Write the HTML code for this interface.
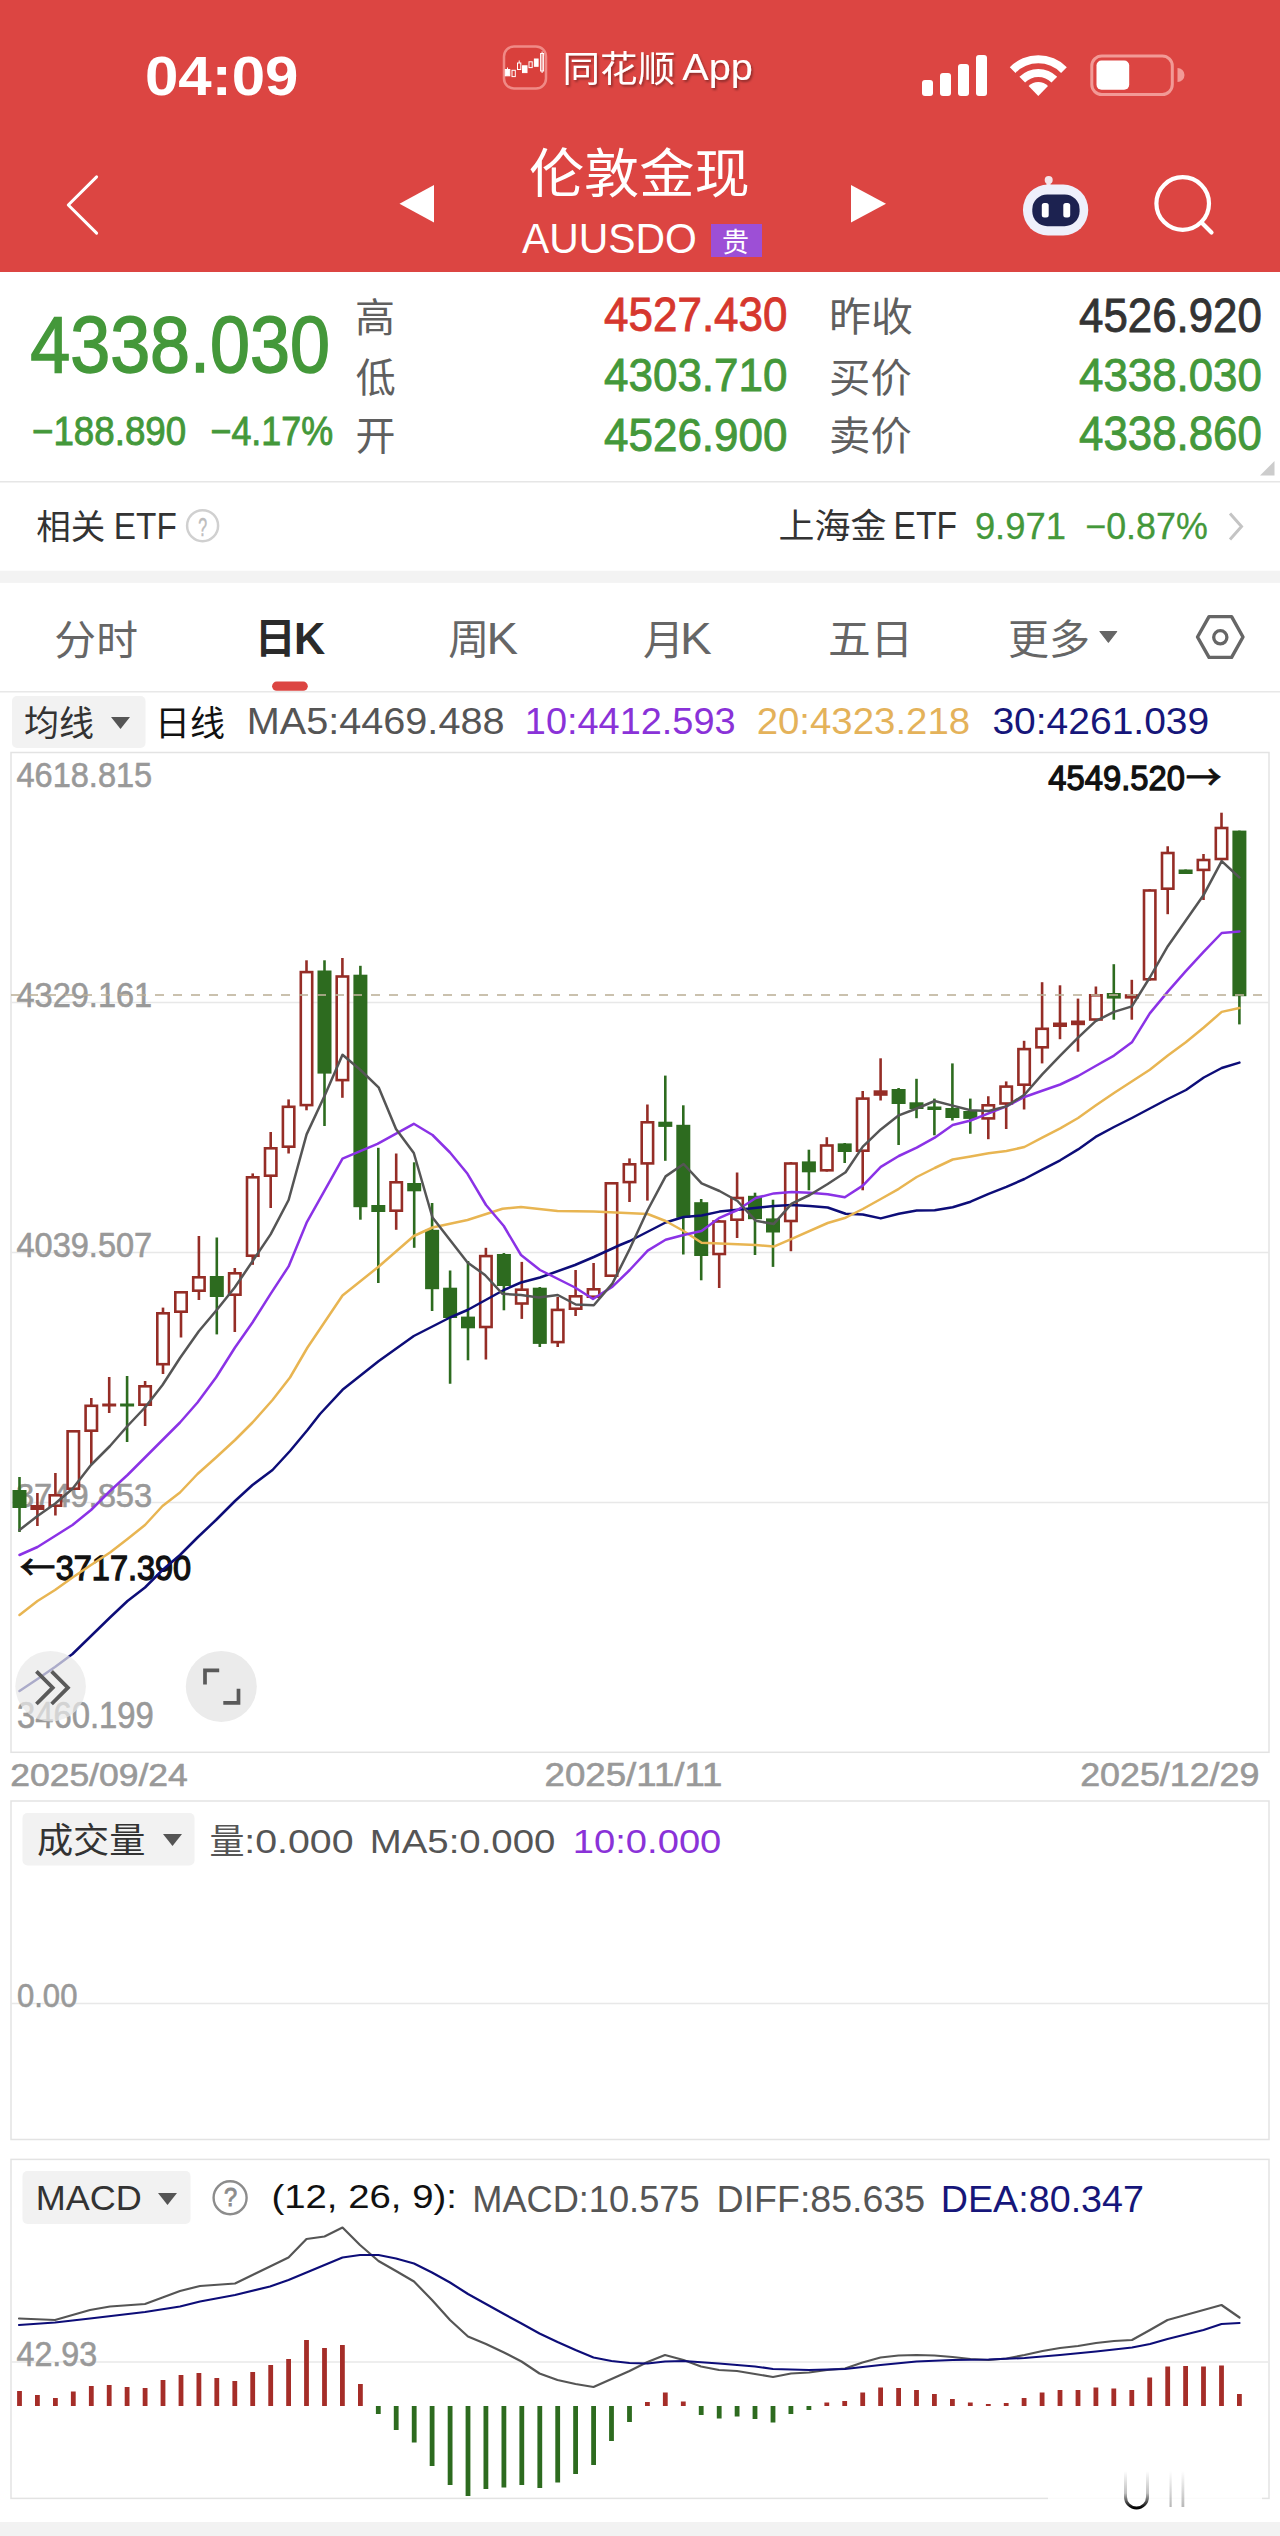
<!DOCTYPE html>
<html><head><meta charset="utf-8"><title>伦敦金现 AUUSDO</title>
<style>html,body{margin:0;padding:0;background:#fff;} svg{display:block;}</style></head>
<body>
<svg width="1280" height="2536" viewBox="0 0 1280 2536">
<defs><linearGradient id="wmg" x1="0" y1="0" x2="0" y2="1"><stop offset="0" stop-color="#000" stop-opacity="0"/><stop offset="0.6" stop-color="#000" stop-opacity="0.25"/><stop offset="1" stop-color="#000" stop-opacity="1"/></linearGradient><linearGradient id="wmg2" x1="0" y1="0" x2="0" y2="1"><stop offset="0" stop-color="#888" stop-opacity="0"/><stop offset="1" stop-color="#888" stop-opacity="0.6"/></linearGradient><filter id="ts" x="-10%" y="-30%" width="130%" height="170%"><feDropShadow dx="1.5" dy="2" stdDeviation="1.2" flood-color="#000" flood-opacity="0.35"/></filter></defs>
<rect width="1280" height="2536" fill="#fff"/>
<rect x="0" y="0" width="1280" height="272" fill="#dc4542"/>
<text x="145.00" y="95.37" font-size="55.81" fill="#fff" font-family='"Liberation Sans", "Noto Sans CJK SC", sans-serif' font-weight="bold" textLength="153.47" lengthAdjust="spacingAndGlyphs">04:09</text>
<rect x="504" y="46.5" width="42" height="42" rx="10" fill="#d9403c" stroke="#f08a86" stroke-width="2.5"/>
<g fill="#fff" stroke="#fff" stroke-width="1"><rect x="505.3" y="69.5" width="4.5" height="6.3"/><line x1="507.5" y1="67.5" x2="507.5" y2="69.5"/><rect x="512" y="70.3" width="3.3" height="6.3" fill="#d9403c"/><rect x="517.5" y="63" width="3.3" height="6.5" fill="#d9403c"/><line x1="519.2" y1="60.5" x2="519.2" y2="63"/><rect x="522.5" y="65.8" width="4.5" height="6.8"/><rect x="529" y="61.8" width="3.2" height="5.8" fill="#d9403c"/><rect x="534.4" y="59" width="3.7" height="7.3"/><rect x="540.6" y="53.5" width="3" height="17.5" fill="#d9403c"/><line x1="542.1" y1="51.5" x2="542.1" y2="73"/></g>
<g filter="url(#ts)">
<text x="562.57" y="81.60" font-size="36.00" fill="#fff" font-family='"Noto Sans CJK SC", "Liberation Sans", sans-serif' textLength="112.63" lengthAdjust="spacingAndGlyphs">同花顺</text>
<text x="682.20" y="80.08" font-size="37.58" fill="#fff" font-family='"Liberation Sans", "Noto Sans CJK SC", sans-serif' textLength="70.63" lengthAdjust="spacingAndGlyphs">App</text>
</g>
<rect x="922" y="80" width="11" height="16" rx="3" fill="#fff"/>
<rect x="940" y="73" width="11" height="23" rx="3" fill="#fff"/>
<rect x="958" y="64" width="11" height="32" rx="3" fill="#fff"/>
<rect x="976" y="55" width="11" height="41" rx="3" fill="#fff"/>
<g fill="#fff"><path d="M1038.3 96 L1048 86 A14 14 0 0 0 1028.6 86 Z"/><path d="M1019.4 76.8 A26.5 26.5 0 0 1 1057.2 76.8 L1051.5 82.5 A18.5 18.5 0 0 0 1025.1 82.5 Z"/><path d="M1009.8 67.2 A40 40 0 0 1 1066.8 67.2 L1061.1 72.9 A32 32 0 0 0 1015.5 72.9 Z"/></g>
<rect x="1091.8" y="56" width="80.5" height="38.5" rx="10" fill="none" stroke="#f29a96" stroke-width="3"/>
<rect x="1096.5" y="60.6" width="32.7" height="29.2" rx="5" fill="#fff"/>
<path d="M1177.5 68 A7 7 0 0 1 1177.5 82 Z" fill="#f29a96"/>
<path d="M96.6 176.9 L68.3 205 L96.6 233.1" fill="none" stroke="#fff" stroke-width="3" stroke-linecap="round" stroke-linejoin="round"/>
<path d="M434 185 L399.5 203.8 L434 222.6 Z" fill="#fff"/>
<path d="M851 185 L886 203.8 L851 222.6 Z" fill="#fff"/>
<text x="528.92" y="193.00" font-size="53.00" fill="#fff" font-family='"Noto Sans CJK SC", "Liberation Sans", sans-serif' textLength="220.87" lengthAdjust="spacingAndGlyphs">伦敦金现</text>
<text x="522.00" y="253.30" font-size="41.86" fill="#fff" font-family='"Liberation Sans", "Noto Sans CJK SC", sans-serif' textLength="174.84" lengthAdjust="spacingAndGlyphs">AUUSDO</text>
<rect x="711" y="224" width="51" height="33" fill="#9d4fd6"/>
<text x="722.00" y="252.00" font-size="27.00" fill="#fff" font-family='"Noto Sans CJK SC", "Liberation Sans", sans-serif'>贵</text>
<g><circle cx="1048.7" cy="180" r="4" fill="#f4e4ea"/><rect x="1046.5" y="181" width="4" height="6" fill="#f4e4ea"/><rect x="1023" y="184.5" width="65.2" height="51" rx="25" fill="#eef0fb"/><rect x="1032.3" y="194.4" width="47.3" height="31.8" rx="15" fill="#1c2250"/><rect x="1041.8" y="203" width="6.9" height="14.6" rx="2.5" fill="#fff"/><rect x="1063.3" y="203" width="6.9" height="14.6" rx="2.5" fill="#fff"/></g>
<circle cx="1182.7" cy="203.5" r="26.3" fill="none" stroke="#fff" stroke-width="4.2"/>
<line x1="1201.5" y1="222.5" x2="1211.5" y2="232.5" stroke="#fff" stroke-width="4.2" stroke-linecap="round"/>
<text x="30.20" y="371.78" font-size="78.98" fill="#44983a" font-family='"Liberation Sans", "Noto Sans CJK SC", sans-serif' textLength="299.81" lengthAdjust="spacingAndGlyphs" stroke="#44983a" stroke-width="1.5">4338.030</text>
<text x="31.98" y="445.33" font-size="40.05" fill="#44983a" font-family='"Liberation Sans", "Noto Sans CJK SC", sans-serif' textLength="154.21" lengthAdjust="spacingAndGlyphs" stroke="#44983a" stroke-width="0.9">−188.890</text>
<text x="210.50" y="445.33" font-size="40.05" fill="#44983a" font-family='"Liberation Sans", "Noto Sans CJK SC", sans-serif' textLength="122.59" lengthAdjust="spacingAndGlyphs" stroke="#44983a" stroke-width="0.9">−4.17%</text>
<text x="355.00" y="331.80" font-size="40.00" fill="#5f5f5f" font-family='"Noto Sans CJK SC", "Liberation Sans", sans-serif'>高</text>
<text x="355.70" y="392.10" font-size="40.00" fill="#5f5f5f" font-family='"Noto Sans CJK SC", "Liberation Sans", sans-serif'>低</text>
<text x="355.40" y="450.00" font-size="40.00" fill="#5f5f5f" font-family='"Noto Sans CJK SC", "Liberation Sans", sans-serif'>开</text>
<text x="604.07" y="331.11" font-size="47.44" fill="#d6372e" font-family='"Liberation Sans", "Noto Sans CJK SC", sans-serif' textLength="183.39" lengthAdjust="spacingAndGlyphs" stroke="#d6372e" stroke-width="0.9">4527.430</text>
<text x="604.07" y="391.22" font-size="46.74" fill="#44983a" font-family='"Liberation Sans", "Noto Sans CJK SC", sans-serif' textLength="183.39" lengthAdjust="spacingAndGlyphs" stroke="#44983a" stroke-width="0.9">4303.710</text>
<text x="604.07" y="450.52" font-size="46.74" fill="#44983a" font-family='"Liberation Sans", "Noto Sans CJK SC", sans-serif' textLength="183.39" lengthAdjust="spacingAndGlyphs" stroke="#44983a" stroke-width="0.9">4526.900</text>
<text x="829.06" y="331.30" font-size="40.00" fill="#5f5f5f" font-family='"Noto Sans CJK SC", "Liberation Sans", sans-serif' textLength="83.84" lengthAdjust="spacingAndGlyphs">昨收</text>
<text x="829.10" y="391.90" font-size="40.00" fill="#5f5f5f" font-family='"Noto Sans CJK SC", "Liberation Sans", sans-serif' textLength="82.74" lengthAdjust="spacingAndGlyphs">买价</text>
<text x="829.10" y="449.90" font-size="40.00" fill="#5f5f5f" font-family='"Noto Sans CJK SC", "Liberation Sans", sans-serif' textLength="82.74" lengthAdjust="spacingAndGlyphs">卖价</text>
<text x="1079.07" y="331.50" font-size="48.00" fill="#333" font-family='"Liberation Sans", "Noto Sans CJK SC", sans-serif' textLength="182.79" lengthAdjust="spacingAndGlyphs" stroke="#333" stroke-width="0.9">4526.920</text>
<text x="1079.07" y="390.82" font-size="46.88" fill="#44983a" font-family='"Liberation Sans", "Noto Sans CJK SC", sans-serif' textLength="182.79" lengthAdjust="spacingAndGlyphs" stroke="#44983a" stroke-width="0.9">4338.030</text>
<text x="1079.07" y="450.10" font-size="48.00" fill="#44983a" font-family='"Liberation Sans", "Noto Sans CJK SC", sans-serif' textLength="182.79" lengthAdjust="spacingAndGlyphs" stroke="#44983a" stroke-width="0.9">4338.860</text>
<path d="M1274.5 461 L1274.5 475.5 L1260 475.5 Z" fill="#cccccc"/>
<rect x="0" y="481" width="1280" height="1.5" fill="#e6e6e6"/>
<text x="36.20" y="539.40" font-size="34.50" fill="#333" font-family='"Noto Sans CJK SC", "Liberation Sans", sans-serif'>相关</text>
<text x="113.82" y="539.00" font-size="36.59" fill="#333" font-family='"Liberation Sans", "Noto Sans CJK SC", sans-serif' textLength="62.97" lengthAdjust="spacingAndGlyphs">ETF</text>
<text x="778.62" y="538.30" font-size="34.50" fill="#333" font-family='"Noto Sans CJK SC", "Liberation Sans", sans-serif' textLength="107.85" lengthAdjust="spacingAndGlyphs">上海金</text>
<text x="893.50" y="539.40" font-size="38.05" fill="#333" font-family='"Liberation Sans", "Noto Sans CJK SC", sans-serif' textLength="63.51" lengthAdjust="spacingAndGlyphs">ETF</text>
<text x="974.88" y="538.99" font-size="36.56" fill="#44983a" font-family='"Liberation Sans", "Noto Sans CJK SC", sans-serif' textLength="91.03" lengthAdjust="spacingAndGlyphs" stroke="#44983a" stroke-width="0.3">9.971</text>
<text x="1085.21" y="538.99" font-size="36.56" fill="#44983a" font-family='"Liberation Sans", "Noto Sans CJK SC", sans-serif' textLength="122.59" lengthAdjust="spacingAndGlyphs" stroke="#44983a" stroke-width="0.3">−0.87%</text>
<circle cx="202.6" cy="525.7" r="15.5" fill="none" stroke="#d0d0d0" stroke-width="2.5"/>
<text x="198.27" y="535.50" font-size="25.71" fill="#bdbdbd" font-family='"Liberation Sans", "Noto Sans CJK SC", sans-serif' textLength="8.86" lengthAdjust="spacingAndGlyphs" stroke="#bdbdbd" stroke-width="0.5">?</text>
<path d="M1230 513.5 L1241.5 526.5 L1230 539.5" fill="none" stroke="#c4c4c4" stroke-width="3"/>
<rect x="0" y="570.7" width="1280" height="12.2" fill="#f3f3f3"/>
<text x="54.36" y="654.70" font-size="41.00" fill="#666" font-family='"Noto Sans CJK SC", "Liberation Sans", sans-serif' textLength="83.56" lengthAdjust="spacingAndGlyphs">分时</text>
<text x="254.70" y="652.60" font-size="41.00" fill="#2a2a2a" font-family='"Noto Sans CJK SC", "Liberation Sans", sans-serif' font-weight="bold">日</text>
<text x="294.12" y="653.80" font-size="43.98" fill="#2a2a2a" font-family='"Liberation Sans", "Noto Sans CJK SC", sans-serif' font-weight="bold" textLength="31.25" lengthAdjust="spacingAndGlyphs">K</text>
<text x="448.20" y="653.70" font-size="41.00" fill="#666" font-family='"Noto Sans CJK SC", "Liberation Sans", sans-serif'>周</text>
<text x="486.56" y="653.80" font-size="43.98" fill="#666" font-family='"Liberation Sans", "Noto Sans CJK SC", sans-serif' textLength="31.55" lengthAdjust="spacingAndGlyphs">K</text>
<text x="643.00" y="654.70" font-size="41.00" fill="#666" font-family='"Noto Sans CJK SC", "Liberation Sans", sans-serif'>月</text>
<text x="680.03" y="653.80" font-size="43.98" fill="#666" font-family='"Liberation Sans", "Noto Sans CJK SC", sans-serif' textLength="31.79" lengthAdjust="spacingAndGlyphs">K</text>
<text x="827.92" y="653.70" font-size="41.00" fill="#666" font-family='"Noto Sans CJK SC", "Liberation Sans", sans-serif' textLength="85.37" lengthAdjust="spacingAndGlyphs">五日</text>
<text x="1008.00" y="653.70" font-size="41.00" fill="#666" font-family='"Noto Sans CJK SC", "Liberation Sans", sans-serif' textLength="82.00" lengthAdjust="spacingAndGlyphs">更多</text>
<path d="M1100 631.5 L1116.7 631.5 L1108.4 642.2 Z" fill="#666" stroke="#666" stroke-width="1.2" stroke-linejoin="round"/>
<path d="M1209 616.6 L1231.6 616.6 L1243 637 L1231.6 657.4 L1209 657.4 L1197.5 637 Z" fill="none" stroke="#666" stroke-width="3.4" stroke-linejoin="round"/>
<circle cx="1220.3" cy="637.3" r="6.6" fill="none" stroke="#666" stroke-width="3.3"/>
<rect x="272.1" y="681.6" width="35.7" height="9.2" rx="4.6" fill="#dc4542"/>
<rect x="0" y="691" width="1280" height="1.5" fill="#e8e8e8"/>
<rect x="12" y="696" width="133.5" height="52" rx="5" fill="#f2f2f2"/>
<text x="24.00" y="736.00" font-size="35.00" fill="#333" font-family='"Noto Sans CJK SC", "Liberation Sans", sans-serif'>均线</text>
<path d="M111 717 L130 717 L120.5 729 Z" fill="#555"/>
<text x="155.00" y="735.75" font-size="35.00" fill="#111" font-family='"Noto Sans CJK SC", "Liberation Sans", sans-serif'>日线</text>
<text x="246.70" y="734.40" font-size="36.28" fill="#555" font-family='"Liberation Sans", "Noto Sans CJK SC", sans-serif' textLength="257.82" lengthAdjust="spacingAndGlyphs">MA5:4469.488</text>
<text x="524.84" y="734.28" font-size="36.98" fill="#8a32d8" font-family='"Liberation Sans", "Noto Sans CJK SC", sans-serif' textLength="210.75" lengthAdjust="spacingAndGlyphs">10:4412.593</text>
<text x="756.68" y="734.28" font-size="36.98" fill="#e4b25a" font-family='"Liberation Sans", "Noto Sans CJK SC", sans-serif' textLength="213.43" lengthAdjust="spacingAndGlyphs">20:4323.218</text>
<text x="992.40" y="734.28" font-size="36.98" fill="#16167a" font-family='"Liberation Sans", "Noto Sans CJK SC", sans-serif' textLength="216.84" lengthAdjust="spacingAndGlyphs">30:4261.039</text>
<rect x="11" y="752.5" width="1258" height="999.8" fill="#fff" stroke="#e3e3e3" stroke-width="1.5"/>
<line x1="11" y1="1002.6" x2="1269" y2="1002.6" stroke="#e8e8e8" stroke-width="1.5"/>
<line x1="11" y1="1252.6" x2="1269" y2="1252.6" stroke="#e8e8e8" stroke-width="1.5"/>
<line x1="11" y1="1502.6" x2="1269" y2="1502.6" stroke="#e8e8e8" stroke-width="1.5"/>
<text x="16.46" y="787.42" font-size="34.88" fill="#999999" font-family='"Liberation Sans", "Noto Sans CJK SC", sans-serif' textLength="135.77" lengthAdjust="spacingAndGlyphs" stroke="#999999" stroke-width="0.6">4618.815</text>
<text x="16.46" y="1007.42" font-size="34.88" fill="#999999" font-family='"Liberation Sans", "Noto Sans CJK SC", sans-serif' textLength="135.77" lengthAdjust="spacingAndGlyphs" stroke="#999999" stroke-width="0.6">4329.161</text>
<text x="16.46" y="1256.93" font-size="34.19" fill="#999999" font-family='"Liberation Sans", "Noto Sans CJK SC", sans-serif' textLength="135.77" lengthAdjust="spacingAndGlyphs" stroke="#999999" stroke-width="0.6">4039.507</text>
<text x="15.91" y="1507.13" font-size="33.91" fill="#999999" font-family='"Liberation Sans", "Noto Sans CJK SC", sans-serif' textLength="136.32" lengthAdjust="spacingAndGlyphs" stroke="#999999" stroke-width="0.6">3749.853</text>
<text x="16.91" y="1727.80" font-size="36.14" fill="#999999" font-family='"Liberation Sans", "Noto Sans CJK SC", sans-serif' textLength="136.83" lengthAdjust="spacingAndGlyphs" stroke="#999999" stroke-width="0.6">3460.199</text>
<text x="19.65" y="1579.50" font-size="34.00" fill="#111" font-family='"Noto Sans CJK SC", "Liberation Sans", sans-serif' textLength="35.70" lengthAdjust="spacingAndGlyphs" stroke="#111" stroke-width="0.9">←</text>
<text x="55.72" y="1579.73" font-size="34.33" fill="#111" font-family='"Liberation Sans", "Noto Sans CJK SC", sans-serif' textLength="135.47" lengthAdjust="spacingAndGlyphs" stroke="#111" stroke-width="1.3">3717.390</text>
<line x1="19.5" y1="1477" x2="19.5" y2="1532" stroke="#2d6b1f" stroke-width="2.6"/>
<rect x="12.5" y="1490" width="14.0" height="18.0" fill="#2d6b1f"/>
<line x1="37.4" y1="1493" x2="37.4" y2="1526" stroke="#952d26" stroke-width="2.6"/>
<rect x="30.4" y="1505" width="14.0" height="5.0" fill="#952d26"/>
<line x1="55.4" y1="1473" x2="55.4" y2="1515.5" stroke="#952d26" stroke-width="2.6"/>
<rect x="49.7" y="1495.3" width="11.4" height="10.4" fill="#fff" stroke="#952d26" stroke-width="2.6"/>
<line x1="73.3" y1="1430" x2="73.3" y2="1490" stroke="#952d26" stroke-width="2.6"/>
<rect x="67.6" y="1431.3" width="11.4" height="57.4" fill="#fff" stroke="#952d26" stroke-width="2.6"/>
<line x1="91.3" y1="1398" x2="91.3" y2="1465" stroke="#952d26" stroke-width="2.6"/>
<rect x="85.6" y="1405.8" width="11.4" height="24.9" fill="#fff" stroke="#952d26" stroke-width="2.6"/>
<line x1="109.2" y1="1377" x2="109.2" y2="1413" stroke="#952d26" stroke-width="2.6"/>
<rect x="102.2" y="1403.5" width="14.0" height="3.0" fill="#952d26"/>
<line x1="127.1" y1="1376" x2="127.1" y2="1442" stroke="#2d6b1f" stroke-width="2.6"/>
<rect x="120.1" y="1403.5" width="14.0" height="3.0" fill="#2d6b1f"/>
<line x1="145.1" y1="1381" x2="145.1" y2="1426" stroke="#952d26" stroke-width="2.6"/>
<rect x="139.4" y="1386.3" width="11.4" height="18.4" fill="#fff" stroke="#952d26" stroke-width="2.6"/>
<line x1="163.0" y1="1307.6" x2="163.0" y2="1374" stroke="#952d26" stroke-width="2.6"/>
<rect x="157.3" y="1313.3" width="11.4" height="50.9" fill="#fff" stroke="#952d26" stroke-width="2.6"/>
<line x1="181.0" y1="1291" x2="181.0" y2="1337.5" stroke="#952d26" stroke-width="2.6"/>
<rect x="175.3" y="1292.3" width="11.4" height="19.4" fill="#fff" stroke="#952d26" stroke-width="2.6"/>
<line x1="198.9" y1="1236" x2="198.9" y2="1300" stroke="#952d26" stroke-width="2.6"/>
<rect x="193.2" y="1277.3" width="11.4" height="13.4" fill="#fff" stroke="#952d26" stroke-width="2.6"/>
<line x1="216.8" y1="1237.5" x2="216.8" y2="1334.4" stroke="#2d6b1f" stroke-width="2.6"/>
<rect x="209.8" y="1276" width="14.0" height="21.0" fill="#2d6b1f"/>
<line x1="234.8" y1="1268" x2="234.8" y2="1332" stroke="#952d26" stroke-width="2.6"/>
<rect x="229.1" y="1273.3" width="11.4" height="21.4" fill="#fff" stroke="#952d26" stroke-width="2.6"/>
<line x1="252.7" y1="1173.4" x2="252.7" y2="1264.8" stroke="#952d26" stroke-width="2.6"/>
<rect x="247.0" y="1177.3" width="11.4" height="78.4" fill="#fff" stroke="#952d26" stroke-width="2.6"/>
<line x1="270.7" y1="1132" x2="270.7" y2="1208" stroke="#952d26" stroke-width="2.6"/>
<rect x="265.0" y="1148.3" width="11.4" height="27.4" fill="#fff" stroke="#952d26" stroke-width="2.6"/>
<line x1="288.6" y1="1099.4" x2="288.6" y2="1153.5" stroke="#952d26" stroke-width="2.6"/>
<rect x="282.9" y="1106.8" width="11.4" height="39.9" fill="#fff" stroke="#952d26" stroke-width="2.6"/>
<line x1="306.5" y1="960.3" x2="306.5" y2="1110.3" stroke="#952d26" stroke-width="2.6"/>
<rect x="300.8" y="972.1" width="11.4" height="133.0" fill="#fff" stroke="#952d26" stroke-width="2.6"/>
<line x1="324.5" y1="960.3" x2="324.5" y2="1126" stroke="#2d6b1f" stroke-width="2.6"/>
<rect x="317.5" y="970.5" width="14.0" height="103.1" fill="#2d6b1f"/>
<line x1="342.4" y1="958" x2="342.4" y2="1097.8" stroke="#952d26" stroke-width="2.6"/>
<rect x="336.7" y="976.5" width="11.4" height="103.6" fill="#fff" stroke="#952d26" stroke-width="2.6"/>
<line x1="360.4" y1="965.8" x2="360.4" y2="1219.7" stroke="#2d6b1f" stroke-width="2.6"/>
<rect x="353.4" y="974.7" width="14.0" height="232.5" fill="#2d6b1f"/>
<line x1="378.3" y1="1147.8" x2="378.3" y2="1283" stroke="#2d6b1f" stroke-width="2.6"/>
<rect x="371.3" y="1205" width="14.0" height="7.0" fill="#2d6b1f"/>
<line x1="396.2" y1="1153.5" x2="396.2" y2="1229.8" stroke="#952d26" stroke-width="2.6"/>
<rect x="390.5" y="1182.3" width="11.4" height="28.4" fill="#fff" stroke="#952d26" stroke-width="2.6"/>
<line x1="414.2" y1="1162.3" x2="414.2" y2="1247.8" stroke="#2d6b1f" stroke-width="2.6"/>
<rect x="407.2" y="1183" width="14.0" height="8.3" fill="#2d6b1f"/>
<line x1="432.1" y1="1203" x2="432.1" y2="1311" stroke="#2d6b1f" stroke-width="2.6"/>
<rect x="425.1" y="1229.8" width="14.0" height="59.4" fill="#2d6b1f"/>
<line x1="450.1" y1="1270.5" x2="450.1" y2="1383.75" stroke="#2d6b1f" stroke-width="2.6"/>
<rect x="443.1" y="1287.7" width="14.0" height="30.3" fill="#2d6b1f"/>
<line x1="468.0" y1="1261" x2="468.0" y2="1360.3" stroke="#2d6b1f" stroke-width="2.6"/>
<rect x="461.0" y="1316.6" width="14.0" height="11.7" fill="#2d6b1f"/>
<line x1="485.9" y1="1247.8" x2="485.9" y2="1359.5" stroke="#952d26" stroke-width="2.6"/>
<rect x="480.2" y="1256.1" width="11.4" height="70.9" fill="#fff" stroke="#952d26" stroke-width="2.6"/>
<line x1="503.9" y1="1253" x2="503.9" y2="1310.3" stroke="#2d6b1f" stroke-width="2.6"/>
<rect x="496.9" y="1254" width="14.0" height="32.0" fill="#2d6b1f"/>
<line x1="521.8" y1="1261.9" x2="521.8" y2="1318.9" stroke="#952d26" stroke-width="2.6"/>
<rect x="516.1" y="1289.7" width="11.4" height="13.8" fill="#fff" stroke="#952d26" stroke-width="2.6"/>
<line x1="539.8" y1="1287" x2="539.8" y2="1347" stroke="#2d6b1f" stroke-width="2.6"/>
<rect x="532.8" y="1287.7" width="14.0" height="56.2" fill="#2d6b1f"/>
<line x1="557.7" y1="1297" x2="557.7" y2="1347" stroke="#952d26" stroke-width="2.6"/>
<rect x="552.0" y="1309.9" width="11.4" height="32.2" fill="#fff" stroke="#952d26" stroke-width="2.6"/>
<line x1="575.6" y1="1270" x2="575.6" y2="1316" stroke="#952d26" stroke-width="2.6"/>
<rect x="569.9" y="1296.3" width="11.4" height="12.4" fill="#fff" stroke="#952d26" stroke-width="2.6"/>
<line x1="593.6" y1="1263" x2="593.6" y2="1299" stroke="#952d26" stroke-width="2.6"/>
<rect x="587.9" y="1289.3" width="11.4" height="7.4" fill="#fff" stroke="#952d26" stroke-width="2.6"/>
<line x1="611.5" y1="1182" x2="611.5" y2="1277" stroke="#952d26" stroke-width="2.6"/>
<rect x="605.8" y="1183.3" width="11.4" height="92.4" fill="#fff" stroke="#952d26" stroke-width="2.6"/>
<line x1="629.5" y1="1158.4" x2="629.5" y2="1202" stroke="#952d26" stroke-width="2.6"/>
<rect x="623.8" y="1164.3" width="11.4" height="17.8" fill="#fff" stroke="#952d26" stroke-width="2.6"/>
<line x1="647.4" y1="1104.5" x2="647.4" y2="1200.6" stroke="#952d26" stroke-width="2.6"/>
<rect x="641.7" y="1122.3" width="11.4" height="41.1" fill="#fff" stroke="#952d26" stroke-width="2.6"/>
<line x1="665.3" y1="1075.6" x2="665.3" y2="1160.8" stroke="#2d6b1f" stroke-width="2.6"/>
<rect x="658.3" y="1121.7" width="14.0" height="5.2" fill="#2d6b1f"/>
<line x1="683.3" y1="1105.3" x2="683.3" y2="1254.5" stroke="#2d6b1f" stroke-width="2.6"/>
<rect x="676.3" y="1124.8" width="14.0" height="93.0" fill="#2d6b1f"/>
<line x1="701.2" y1="1199" x2="701.2" y2="1280.3" stroke="#2d6b1f" stroke-width="2.6"/>
<rect x="694.2" y="1202.2" width="14.0" height="53.8" fill="#2d6b1f"/>
<line x1="719.2" y1="1220" x2="719.2" y2="1288" stroke="#952d26" stroke-width="2.6"/>
<rect x="713.5" y="1221.5" width="11.4" height="32.5" fill="#fff" stroke="#952d26" stroke-width="2.6"/>
<line x1="737.1" y1="1172.5" x2="737.1" y2="1238" stroke="#952d26" stroke-width="2.6"/>
<rect x="731.4" y="1198.0" width="11.4" height="21.7" fill="#fff" stroke="#952d26" stroke-width="2.6"/>
<line x1="755.0" y1="1192.7" x2="755.0" y2="1255" stroke="#2d6b1f" stroke-width="2.6"/>
<rect x="748.0" y="1195.8" width="14.0" height="23.4" fill="#2d6b1f"/>
<line x1="773.0" y1="1199.7" x2="773.0" y2="1266.9" stroke="#2d6b1f" stroke-width="2.6"/>
<rect x="766.0" y="1218.4" width="14.0" height="14.1" fill="#2d6b1f"/>
<line x1="790.9" y1="1162" x2="790.9" y2="1251.25" stroke="#952d26" stroke-width="2.6"/>
<rect x="785.2" y="1163.5" width="11.4" height="57.5" fill="#fff" stroke="#952d26" stroke-width="2.6"/>
<line x1="808.9" y1="1149.7" x2="808.9" y2="1190.3" stroke="#2d6b1f" stroke-width="2.6"/>
<rect x="801.9" y="1161.4" width="14.0" height="10.9" fill="#2d6b1f"/>
<line x1="826.8" y1="1137.2" x2="826.8" y2="1171.6" stroke="#952d26" stroke-width="2.6"/>
<rect x="821.1" y="1145.5" width="11.4" height="24.8" fill="#fff" stroke="#952d26" stroke-width="2.6"/>
<line x1="844.7" y1="1143" x2="844.7" y2="1163" stroke="#2d6b1f" stroke-width="2.6"/>
<rect x="837.7" y="1143.4" width="14.0" height="8.6" fill="#2d6b1f"/>
<line x1="862.7" y1="1091" x2="862.7" y2="1190.3" stroke="#952d26" stroke-width="2.6"/>
<rect x="857.0" y="1098.6" width="11.4" height="52.1" fill="#fff" stroke="#952d26" stroke-width="2.6"/>
<line x1="880.6" y1="1058.3" x2="880.6" y2="1100.5" stroke="#952d26" stroke-width="2.6"/>
<rect x="873.6" y="1090.3" width="14.0" height="5.5" fill="#952d26"/>
<line x1="898.6" y1="1088" x2="898.6" y2="1145" stroke="#2d6b1f" stroke-width="2.6"/>
<rect x="891.6" y="1089" width="14.0" height="15.0" fill="#2d6b1f"/>
<line x1="916.5" y1="1078.8" x2="916.5" y2="1118.2" stroke="#2d6b1f" stroke-width="2.6"/>
<rect x="909.5" y="1102.3" width="14.0" height="6.7" fill="#2d6b1f"/>
<line x1="934.4" y1="1098.6" x2="934.4" y2="1135.3" stroke="#2d6b1f" stroke-width="2.6"/>
<rect x="927.4" y="1106.5" width="14.0" height="3.5" fill="#2d6b1f"/>
<line x1="952.4" y1="1063.4" x2="952.4" y2="1120.5" stroke="#2d6b1f" stroke-width="2.6"/>
<rect x="945.4" y="1108" width="14.0" height="10.0" fill="#2d6b1f"/>
<line x1="970.3" y1="1098.6" x2="970.3" y2="1133.75" stroke="#2d6b1f" stroke-width="2.6"/>
<rect x="963.3" y="1111" width="14.0" height="7.9" fill="#2d6b1f"/>
<line x1="988.3" y1="1096.25" x2="988.3" y2="1139.2" stroke="#952d26" stroke-width="2.6"/>
<rect x="982.6" y="1105.3" width="11.4" height="13.1" fill="#fff" stroke="#952d26" stroke-width="2.6"/>
<line x1="1006.2" y1="1081.4" x2="1006.2" y2="1129" stroke="#952d26" stroke-width="2.6"/>
<rect x="1000.5" y="1086.6" width="11.4" height="16.9" fill="#fff" stroke="#952d26" stroke-width="2.6"/>
<line x1="1024.1" y1="1040.8" x2="1024.1" y2="1109.5" stroke="#952d26" stroke-width="2.6"/>
<rect x="1018.4" y="1049.1" width="11.4" height="35.6" fill="#fff" stroke="#952d26" stroke-width="2.6"/>
<line x1="1042.1" y1="982.2" x2="1042.1" y2="1063.4" stroke="#952d26" stroke-width="2.6"/>
<rect x="1036.4" y="1028.8" width="11.4" height="18.5" fill="#fff" stroke="#952d26" stroke-width="2.6"/>
<line x1="1060.0" y1="985.3" x2="1060.0" y2="1039.2" stroke="#952d26" stroke-width="2.6"/>
<rect x="1053.0" y="1022.5" width="14.0" height="4.5" fill="#952d26"/>
<line x1="1078.0" y1="998.6" x2="1078.0" y2="1051.7" stroke="#952d26" stroke-width="2.6"/>
<rect x="1071.0" y="1020.5" width="14.0" height="4.7" fill="#952d26"/>
<line x1="1095.9" y1="986.5" x2="1095.9" y2="1020.8" stroke="#952d26" stroke-width="2.6"/>
<rect x="1090.2" y="995.3" width="11.4" height="24.2" fill="#fff" stroke="#952d26" stroke-width="2.6"/>
<line x1="1113.8" y1="964.2" x2="1113.8" y2="1019.7" stroke="#2d6b1f" stroke-width="2.6"/>
<rect x="1106.8" y="993" width="14.0" height="5.6" fill="#2d6b1f"/>
<line x1="1131.8" y1="979.8" x2="1131.8" y2="1019.7" stroke="#952d26" stroke-width="2.6"/>
<rect x="1124.8" y="994.2" width="14.0" height="4.4" fill="#952d26"/>
<line x1="1149.7" y1="889.2" x2="1149.7" y2="980.6" stroke="#952d26" stroke-width="2.6"/>
<rect x="1144.0" y="890.5" width="11.4" height="88.8" fill="#fff" stroke="#952d26" stroke-width="2.6"/>
<line x1="1167.7" y1="846.25" x2="1167.7" y2="914.2" stroke="#952d26" stroke-width="2.6"/>
<rect x="1162.0" y="853.0" width="11.4" height="35.7" fill="#fff" stroke="#952d26" stroke-width="2.6"/>
<line x1="1185.6" y1="869.5" x2="1185.6" y2="874" stroke="#2d6b1f" stroke-width="2.6"/>
<rect x="1178.6" y="869.5" width="14.0" height="4.5" fill="#2d6b1f"/>
<line x1="1203.5" y1="854" x2="1203.5" y2="900" stroke="#952d26" stroke-width="2.6"/>
<rect x="1197.8" y="860.0" width="11.4" height="9.9" fill="#fff" stroke="#952d26" stroke-width="2.6"/>
<line x1="1221.5" y1="812.7" x2="1221.5" y2="860.3" stroke="#952d26" stroke-width="2.6"/>
<rect x="1215.8" y="828.0" width="11.4" height="31.0" fill="#fff" stroke="#952d26" stroke-width="2.6"/>
<line x1="1239.4" y1="830.6" x2="1239.4" y2="1024.4" stroke="#2d6b1f" stroke-width="2.6"/>
<rect x="1232.4" y="830.6" width="14.0" height="165.6" fill="#2d6b1f"/>
<polyline points="19.5,1691.0 37.5,1679.0 55.0,1667.0 72.5,1654.0 91.0,1636.0 110.0,1617.5 127.5,1601.0 145.0,1587.5 162.5,1570.0 180.0,1555.0 197.5,1537.5 216.0,1520.0 235.0,1501.0 252.5,1485.0 272.5,1470.0 290.0,1451.0 307.5,1430.0 320.0,1414.0 342.5,1389.8 378.8,1361.0 413.8,1336.0 450.0,1317.5 467.5,1310.0 503.8,1290.0 521.0,1282.5 540.0,1277.5 575.0,1265.0 593.8,1257.0 620.0,1245.0 629.7,1241.0 665.6,1222.5 683.6,1217.0 701.6,1215.5 719.5,1211.6 750.0,1208.4 773.8,1206.0 791.7,1205.0 809.7,1206.0 827.7,1207.5 845.6,1213.8 862.8,1214.5 880.8,1218.4 898.8,1213.8 916.7,1210.6 934.7,1210.3 952.7,1207.2 970.6,1201.7 988.6,1193.9 1006.4,1186.9 1024.4,1179.0 1042.2,1169.7 1060.2,1160.3 1078.1,1149.4 1095.6,1136.9 1114.0,1127.0 1131.9,1118.0 1149.8,1108.5 1167.8,1099.0 1186.0,1090.0 1203.8,1077.5 1221.7,1068.0 1239.4,1062.6" fill="none" stroke="#0d0d78" stroke-width="2.5" stroke-linejoin="round" stroke-linecap="round"/>
<polyline points="19.5,1615.0 37.5,1601.0 55.0,1590.0 72.5,1577.5 91.0,1565.0 110.0,1552.5 127.5,1539.0 145.0,1525.0 162.5,1506.0 180.0,1492.5 197.5,1474.0 216.0,1457.5 235.0,1440.0 252.5,1422.5 272.5,1400.0 290.0,1377.5 307.5,1347.5 342.5,1295.5 378.8,1266.5 413.8,1236.0 432.5,1227.5 467.5,1220.0 502.5,1208.8 521.0,1207.0 557.5,1211.0 593.8,1211.6 647.7,1214.0 665.6,1221.0 683.6,1231.0 701.6,1242.8 719.5,1243.6 755.8,1245.0 773.8,1246.6 791.7,1238.8 827.7,1223.0 845.6,1217.7 862.8,1209.0 880.8,1199.0 898.8,1188.8 916.7,1177.0 934.7,1168.0 952.7,1159.5 970.6,1156.4 988.6,1153.3 1006.4,1151.0 1024.4,1147.0 1042.2,1137.7 1060.2,1128.3 1078.1,1118.0 1095.6,1105.6 1114.0,1093.0 1149.8,1069.7 1167.8,1055.6 1185.8,1042.3 1203.8,1027.5 1221.7,1011.9 1239.4,1008.0" fill="none" stroke="#e8b552" stroke-width="2.5" stroke-linejoin="round" stroke-linecap="round"/>
<polyline points="19.5,1555.0 37.5,1547.0 55.0,1536.0 72.5,1525.0 91.0,1510.0 110.0,1491.0 127.5,1475.0 145.0,1457.5 162.5,1440.0 180.0,1422.5 197.5,1402.5 216.0,1377.5 235.0,1347.5 252.5,1322.5 270.6,1293.8 288.6,1266.4 306.6,1222.7 342.5,1158.6 377.5,1143.8 413.8,1123.8 432.5,1135.0 450.0,1152.5 467.5,1173.8 486.0,1205.0 503.8,1226.0 521.0,1255.0 540.0,1270.0 575.0,1287.5 593.0,1299.0 612.5,1286.6 629.7,1270.0 647.7,1250.6 665.6,1239.7 683.6,1235.0 701.6,1231.0 719.5,1217.8 737.5,1210.0 755.8,1198.0 773.8,1193.4 791.7,1191.9 809.7,1192.7 827.7,1194.2 844.8,1197.3 862.8,1185.6 880.8,1166.9 898.8,1156.0 916.7,1147.6 934.7,1137.7 952.7,1125.0 970.6,1120.5 988.6,1113.4 1006.4,1106.4 1024.4,1097.0 1042.2,1090.8 1060.2,1084.5 1078.1,1076.0 1095.6,1066.0 1114.0,1055.6 1131.9,1042.3 1149.8,1013.4 1167.8,991.6 1185.8,971.2 1203.8,951.7 1221.7,933.0 1239.4,931.4" fill="none" stroke="#8b32e6" stroke-width="2.5" stroke-linejoin="round" stroke-linecap="round"/>
<polyline points="19.5,1530.0 37.5,1516.0 55.0,1503.8 72.5,1488.8 91.0,1465.0 110.0,1446.0 127.5,1426.0 145.0,1407.5 162.5,1385.0 180.0,1358.0 198.8,1331.2 216.7,1310.0 234.7,1287.5 252.7,1261.0 270.6,1234.4 288.6,1200.0 306.6,1134.4 324.5,1096.0 342.5,1054.8 360.5,1070.0 378.8,1087.7 396.0,1129.0 413.8,1153.0 432.5,1217.5 450.0,1240.0 467.5,1262.5 485.0,1275.0 502.5,1293.8 521.0,1295.0 538.8,1297.5 557.8,1295.0 575.8,1304.5 593.8,1305.3 612.5,1283.4 629.7,1249.0 647.7,1210.0 665.6,1176.4 683.6,1164.0 701.6,1183.4 719.5,1191.0 737.5,1201.0 755.8,1220.8 773.8,1223.9 791.7,1203.6 809.7,1195.0 827.7,1184.0 845.6,1172.3 862.8,1146.6 880.8,1129.4 898.8,1115.3 916.7,1108.5 934.7,1101.0 952.7,1105.6 970.6,1110.3 988.6,1111.0 1006.4,1106.4 1024.4,1094.7 1042.2,1074.4 1060.2,1055.6 1078.1,1037.7 1095.6,1021.2 1114.0,1011.9 1131.9,1006.4 1149.8,977.5 1167.8,946.2 1185.8,920.5 1203.8,894.7 1221.7,861.1 1239.4,877.5" fill="none" stroke="#555555" stroke-width="2.5" stroke-linejoin="round" stroke-linecap="round"/>
<line x1="11" y1="995" x2="1269" y2="995" stroke="#bdb29a" stroke-opacity="0.8" stroke-width="2" stroke-dasharray="9 9"/>
<text x="1048.35" y="789.73" font-size="34.33" fill="#111" font-family='"Liberation Sans", "Noto Sans CJK SC", sans-serif' textLength="136.54" lengthAdjust="spacingAndGlyphs" stroke="#111" stroke-width="1.3">4549.520</text>
<text x="1185.65" y="789.50" font-size="34.00" fill="#111" font-family='"Noto Sans CJK SC", "Liberation Sans", sans-serif' textLength="35.70" lengthAdjust="spacingAndGlyphs" stroke="#111" stroke-width="0.9">→</text>
<circle cx="50.6" cy="1686.2" r="35.3" fill="#e9e9e9" fill-opacity="0.72"/>
<path d="M36.4 1671.4 L52.7 1687.7 L36.4 1704 M51.6 1671.4 L67.9 1687.7 L51.6 1704" fill="none" stroke="#5a5a5a" stroke-width="3.8"/>
<circle cx="221.3" cy="1686.4" r="35.5" fill="#ebebeb"/>
<path d="M205 1684.6 L205 1670.4 L219.2 1670.4 M223.3 1702.9 L238.5 1702.9 L238.5 1688.7" fill="none" stroke="#5a5a5a" stroke-width="3.7"/>
<text x="10.23" y="1786.46" font-size="32.18" fill="#999999" font-family='"Liberation Sans", "Noto Sans CJK SC", sans-serif' textLength="177.54" lengthAdjust="spacingAndGlyphs" stroke="#999999" stroke-width="0.6">2025/09/24</text>
<text x="544.57" y="1786.43" font-size="34.09" fill="#999999" font-family='"Liberation Sans", "Noto Sans CJK SC", sans-serif' textLength="177.89" lengthAdjust="spacingAndGlyphs" stroke="#999999" stroke-width="0.6">2025/11/11</text>
<text x="1080.21" y="1786.43" font-size="34.09" fill="#999999" font-family='"Liberation Sans", "Noto Sans CJK SC", sans-serif' textLength="179.16" lengthAdjust="spacingAndGlyphs" stroke="#999999" stroke-width="0.6">2025/12/29</text>
<rect x="11" y="1801" width="1258" height="338.5" fill="#fff" stroke="#e3e3e3" stroke-width="1.5"/>
<rect x="22.5" y="1813" width="172" height="52.5" rx="5" fill="#f2f2f2"/>
<text x="36.93" y="1852.60" font-size="35.00" fill="#333" font-family='"Noto Sans CJK SC", "Liberation Sans", sans-serif' textLength="108.52" lengthAdjust="spacingAndGlyphs">成交量</text>
<path d="M163 1834 L182 1834 L172.5 1846 Z" fill="#555"/>
<text x="209.60" y="1854.40" font-size="35.00" fill="#555" font-family='"Noto Sans CJK SC", "Liberation Sans", sans-serif'>量</text>
<text x="244.32" y="1852.53" font-size="34.05" fill="#555" font-family='"Liberation Sans", "Noto Sans CJK SC", sans-serif' textLength="109.27" lengthAdjust="spacingAndGlyphs">:0.000</text>
<text x="369.80" y="1852.53" font-size="34.05" fill="#555" font-family='"Liberation Sans", "Noto Sans CJK SC", sans-serif' textLength="185.60" lengthAdjust="spacingAndGlyphs">MA5:0.000</text>
<text x="572.82" y="1852.53" font-size="34.05" fill="#8a32d8" font-family='"Liberation Sans", "Noto Sans CJK SC", sans-serif' textLength="148.51" lengthAdjust="spacingAndGlyphs">10:0.000</text>
<line x1="11" y1="2003.5" x2="1268" y2="2003.5" stroke="#e8e8e8" stroke-width="1.5"/>
<text x="16.96" y="2007.44" font-size="33.84" fill="#999999" font-family='"Liberation Sans", "Noto Sans CJK SC", sans-serif' textLength="60.46" lengthAdjust="spacingAndGlyphs" stroke="#999999" stroke-width="0.6">0.00</text>
<rect x="11" y="2159.4" width="1258" height="339" fill="#fff" stroke="#e3e3e3" stroke-width="1.5"/>
<rect x="22.5" y="2171" width="168" height="53" rx="5" fill="#f2f2f2"/>
<text x="35.75" y="2210.43" font-size="34.33" fill="#333" font-family='"Liberation Sans", "Noto Sans CJK SC", sans-serif' textLength="106.16" lengthAdjust="spacingAndGlyphs">MACD</text>
<path d="M158 2193 L177 2193 L167.5 2205 Z" fill="#555"/>
<circle cx="230.1" cy="2197.8" r="16.5" fill="none" stroke="#8c8c8c" stroke-width="2.4"/>
<text x="224.01" y="2205.87" font-size="25.81" fill="#8c8c8c" font-family='"Liberation Sans", "Noto Sans CJK SC", sans-serif' textLength="13.13" lengthAdjust="spacingAndGlyphs" stroke="#8c8c8c" stroke-width="0.9">?</text>
<text x="271.44" y="2208.24" font-size="33.82" fill="#111" font-family='"Liberation Sans", "Noto Sans CJK SC", sans-serif' textLength="185.45" lengthAdjust="spacingAndGlyphs">(12, 26, 9):</text>
<text x="472.29" y="2211.99" font-size="36.56" fill="#555" font-family='"Liberation Sans", "Noto Sans CJK SC", sans-serif' textLength="227.24" lengthAdjust="spacingAndGlyphs">MACD:10.575</text>
<text x="716.57" y="2211.99" font-size="36.56" fill="#555" font-family='"Liberation Sans", "Noto Sans CJK SC", sans-serif' textLength="208.59" lengthAdjust="spacingAndGlyphs">DIFF:85.635</text>
<text x="940.76" y="2211.99" font-size="36.56" fill="#16167a" font-family='"Liberation Sans", "Noto Sans CJK SC", sans-serif' textLength="203.25" lengthAdjust="spacingAndGlyphs">DEA:80.347</text>
<line x1="11" y1="2362" x2="1268" y2="2362" stroke="#e8e8e8" stroke-width="1.5"/>
<text x="16.46" y="2366.02" font-size="34.88" fill="#999999" font-family='"Liberation Sans", "Noto Sans CJK SC", sans-serif' textLength="80.70" lengthAdjust="spacingAndGlyphs" stroke="#999999" stroke-width="0.6">42.93</text>
<rect x="17.1" y="2391" width="4.8" height="15.0" fill="#a52d28"/>
<rect x="35.0" y="2395" width="4.8" height="11.0" fill="#a52d28"/>
<rect x="53.0" y="2398" width="4.8" height="8.0" fill="#a52d28"/>
<rect x="70.9" y="2391.5" width="4.8" height="14.5" fill="#a52d28"/>
<rect x="88.9" y="2386" width="4.8" height="20.0" fill="#a52d28"/>
<rect x="106.8" y="2385" width="4.8" height="21.0" fill="#a52d28"/>
<rect x="124.7" y="2387" width="4.8" height="19.0" fill="#a52d28"/>
<rect x="142.7" y="2388" width="4.8" height="18.0" fill="#a52d28"/>
<rect x="160.6" y="2380" width="4.8" height="26.0" fill="#a52d28"/>
<rect x="178.6" y="2375" width="4.8" height="31.0" fill="#a52d28"/>
<rect x="196.5" y="2373" width="4.8" height="33.0" fill="#a52d28"/>
<rect x="214.4" y="2378" width="4.8" height="28.0" fill="#a52d28"/>
<rect x="232.4" y="2381" width="4.8" height="25.0" fill="#a52d28"/>
<rect x="250.3" y="2372" width="4.8" height="34.0" fill="#a52d28"/>
<rect x="268.3" y="2365" width="4.8" height="41.0" fill="#a52d28"/>
<rect x="286.2" y="2359" width="4.8" height="47.0" fill="#a52d28"/>
<rect x="304.1" y="2340" width="4.8" height="66.0" fill="#a52d28"/>
<rect x="322.1" y="2348" width="4.8" height="58.0" fill="#a52d28"/>
<rect x="340.0" y="2345" width="4.8" height="61.0" fill="#a52d28"/>
<rect x="358.0" y="2384" width="4.8" height="22.0" fill="#a52d28"/>
<rect x="645.0" y="2402" width="4.8" height="4.0" fill="#a52d28"/>
<rect x="662.9" y="2392.5" width="4.8" height="13.5" fill="#a52d28"/>
<rect x="680.9" y="2401.5" width="4.8" height="4.5" fill="#a52d28"/>
<rect x="824.4" y="2402.5" width="4.8" height="3.5" fill="#a52d28"/>
<rect x="842.3" y="2401" width="4.8" height="5.0" fill="#a52d28"/>
<rect x="860.3" y="2392.5" width="4.8" height="13.5" fill="#a52d28"/>
<rect x="878.2" y="2387.5" width="4.8" height="18.5" fill="#a52d28"/>
<rect x="896.2" y="2388" width="4.8" height="18.0" fill="#a52d28"/>
<rect x="914.1" y="2390" width="4.8" height="16.0" fill="#a52d28"/>
<rect x="932.0" y="2394" width="4.8" height="12.0" fill="#a52d28"/>
<rect x="950.0" y="2399" width="4.8" height="7.0" fill="#a52d28"/>
<rect x="967.9" y="2402.5" width="4.8" height="3.5" fill="#a52d28"/>
<rect x="985.9" y="2404" width="4.8" height="2.0" fill="#a52d28"/>
<rect x="1003.8" y="2403" width="4.8" height="3.0" fill="#a52d28"/>
<rect x="1021.7" y="2398" width="4.8" height="8.0" fill="#a52d28"/>
<rect x="1039.7" y="2392.5" width="4.8" height="13.5" fill="#a52d28"/>
<rect x="1057.6" y="2390" width="4.8" height="16.0" fill="#a52d28"/>
<rect x="1075.6" y="2390" width="4.8" height="16.0" fill="#a52d28"/>
<rect x="1093.5" y="2387.5" width="4.8" height="18.5" fill="#a52d28"/>
<rect x="1111.4" y="2388.5" width="4.8" height="17.5" fill="#a52d28"/>
<rect x="1129.4" y="2390" width="4.8" height="16.0" fill="#a52d28"/>
<rect x="1147.3" y="2377.5" width="4.8" height="28.5" fill="#a52d28"/>
<rect x="1165.3" y="2366.5" width="4.8" height="39.5" fill="#a52d28"/>
<rect x="1183.2" y="2366" width="4.8" height="40.0" fill="#a52d28"/>
<rect x="1201.1" y="2366.5" width="4.8" height="39.5" fill="#a52d28"/>
<rect x="1219.1" y="2365.5" width="4.8" height="40.5" fill="#a52d28"/>
<rect x="1237.0" y="2394" width="4.8" height="12.0" fill="#a52d28"/>
<rect x="375.9" y="2406" width="4.8" height="8.0" fill="#2d6b1f"/>
<rect x="393.8" y="2406" width="4.8" height="24.0" fill="#2d6b1f"/>
<rect x="411.8" y="2406" width="4.8" height="36.5" fill="#2d6b1f"/>
<rect x="429.7" y="2406" width="4.8" height="60.0" fill="#2d6b1f"/>
<rect x="447.7" y="2406" width="4.8" height="79.0" fill="#2d6b1f"/>
<rect x="465.6" y="2406" width="4.8" height="90.0" fill="#2d6b1f"/>
<rect x="483.5" y="2406" width="4.8" height="83.0" fill="#2d6b1f"/>
<rect x="501.5" y="2406" width="4.8" height="81.5" fill="#2d6b1f"/>
<rect x="519.4" y="2406" width="4.8" height="79.0" fill="#2d6b1f"/>
<rect x="537.4" y="2406" width="4.8" height="82.0" fill="#2d6b1f"/>
<rect x="555.3" y="2406" width="4.8" height="76.5" fill="#2d6b1f"/>
<rect x="573.2" y="2406" width="4.8" height="68.0" fill="#2d6b1f"/>
<rect x="591.2" y="2406" width="4.8" height="59.0" fill="#2d6b1f"/>
<rect x="609.1" y="2406" width="4.8" height="35.0" fill="#2d6b1f"/>
<rect x="627.1" y="2406" width="4.8" height="16.0" fill="#2d6b1f"/>
<rect x="698.8" y="2406" width="4.8" height="9.0" fill="#2d6b1f"/>
<rect x="716.8" y="2406" width="4.8" height="12.5" fill="#2d6b1f"/>
<rect x="734.7" y="2406" width="4.8" height="10.5" fill="#2d6b1f"/>
<rect x="752.6" y="2406" width="4.8" height="13.0" fill="#2d6b1f"/>
<rect x="770.6" y="2406" width="4.8" height="16.5" fill="#2d6b1f"/>
<rect x="788.5" y="2406" width="4.8" height="8.0" fill="#2d6b1f"/>
<rect x="806.5" y="2406" width="4.8" height="4.0" fill="#2d6b1f"/>
<polyline points="19.0,2318.5 55.0,2320.0 90.0,2310.0 110.0,2306.5 145.0,2304.0 162.5,2297.5 180.0,2291.0 200.0,2286.0 235.0,2283.5 252.5,2275.0 270.0,2266.5 288.5,2257.5 306.5,2239.0 324.5,2236.5 342.5,2227.5 360.0,2245.0 378.5,2261.0 396.0,2271.0 414.0,2281.5 432.0,2300.0 450.0,2320.0 468.0,2336.5 486.0,2344.0 504.0,2352.5 521.5,2361.5 539.5,2373.5 557.5,2380.0 575.5,2384.0 593.5,2387.0 611.5,2379.0 629.5,2371.0 647.5,2362.0 665.0,2355.0 683.5,2360.0 701.0,2366.5 719.0,2370.0 737.0,2371.0 755.0,2374.0 773.0,2377.0 791.0,2373.5 809.0,2372.5 827.0,2370.0 845.0,2368.5 862.5,2362.5 880.5,2357.5 898.5,2355.5 916.5,2355.0 934.5,2355.5 952.5,2357.0 970.5,2359.0 988.5,2360.0 1006.5,2358.5 1024.5,2355.0 1042.5,2351.0 1060.0,2348.0 1078.0,2346.0 1096.0,2343.0 1114.0,2341.0 1132.0,2340.0 1150.0,2330.0 1167.5,2320.0 1185.5,2315.0 1203.5,2310.0 1221.5,2305.0 1239.5,2317.5" fill="none" stroke="#555555" stroke-width="2.2" stroke-linejoin="round" stroke-linecap="round"/>
<polyline points="19.0,2325.0 55.0,2322.5 90.0,2318.5 145.0,2312.0 180.0,2306.5 200.0,2301.5 235.0,2295.0 270.0,2286.5 288.5,2280.0 306.5,2272.5 324.5,2265.0 342.5,2257.5 360.0,2255.0 378.5,2255.0 396.0,2258.5 414.0,2263.5 432.0,2272.5 450.0,2282.5 468.0,2294.0 486.0,2304.0 504.0,2314.0 521.5,2323.5 539.5,2333.5 557.5,2342.0 575.5,2350.0 593.5,2357.5 611.5,2361.0 629.5,2363.0 647.5,2363.5 665.0,2361.5 683.5,2361.0 719.0,2363.5 755.0,2366.5 773.0,2369.0 809.0,2370.0 845.0,2369.0 880.5,2365.0 916.5,2361.5 952.5,2360.0 988.5,2359.5 1024.5,2358.0 1060.0,2355.0 1096.0,2351.5 1132.0,2347.5 1150.0,2344.0 1167.5,2339.0 1203.5,2330.0 1221.5,2324.0 1239.5,2323.0" fill="none" stroke="#0d0d78" stroke-width="2.2" stroke-linejoin="round" stroke-linecap="round"/>
<rect x="1048" y="2468" width="214" height="44" fill="#fff" fill-opacity="0.85"/>
<path d="M1125.5 2471 L1125.5 2497 A11 11 0 0 0 1147.5 2497 L1147.5 2471" fill="none" stroke="url(#wmg)" stroke-width="3"/>
<rect x="1169.5" y="2471" width="2.2" height="36" fill="url(#wmg2)"/>
<rect x="1181.5" y="2471" width="2.8" height="36" fill="url(#wmg2)"/>
<rect x="0" y="2522" width="1280" height="14" fill="#f2f2f2"/>
</svg>
</body></html>
